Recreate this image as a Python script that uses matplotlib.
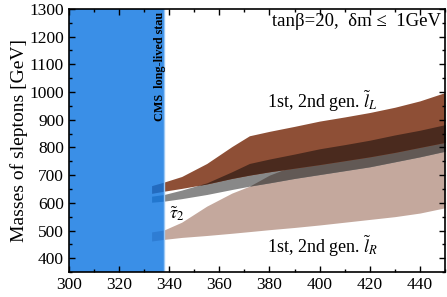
import numpy as np
import matplotlib
matplotlib.use("Agg")
import matplotlib.pyplot as plt
from matplotlib.ticker import MultipleLocator

plt.rcParams['font.family'] = ['Liberation Serif', 'DejaVu Serif']
plt.rcParams['mathtext.fontset'] = 'stix'

# stau mass grid (GeV) and band edges
m_stau = np.array([333, 338, 345, 355, 365, 372, 380, 390, 400, 410, 420, 430, 440, 450])
# 1st, 2nd gen. left-handed sleptons
lL_hi = np.array([662, 675, 695, 742, 803, 842, 858, 876, 895, 910, 926, 945, 968, 998])
lL_lo = np.array([634, 642, 652, 668, 688, 700, 712, 725, 738, 752, 766, 782, 800, 818])
# stau_2
tau2_hi = np.array([624, 630, 646, 672, 712, 742, 758, 776, 795, 810, 826, 845, 862, 882])
tau2_lo = np.array([602, 606, 615, 630, 648, 660, 672, 688, 702, 716, 730, 748, 766, 786])
# 1st, 2nd gen. right-handed sleptons
lR_hi = np.array([495, 502, 530, 588, 635, 660, 700, 735, 760, 775, 790, 805, 820, 840])
lR_lo = np.array([462, 468, 475, 482, 490, 496, 503, 511, 520, 530, 540, 550, 563, 582])

cms_limit = 338

c_brown = '#8e4f36'
c_dark = '#4a2a1e'
c_grey = '#888888'
c_taupe = '#625955'
c_pink = '#c4a89d'

fig = plt.figure(figsize=(4.47, 2.97), dpi=100)
ax = fig.add_axes([0.154, 0.084, 0.8415, 0.886])

ax.fill_between(m_stau, lR_lo, lR_hi, color=c_pink, lw=0)
ax.fill_between(m_stau, tau2_lo, tau2_hi, color=c_grey, lw=0)
lo = np.maximum(tau2_lo, lR_lo); hi = np.minimum(tau2_hi, lR_hi)
ax.fill_between(m_stau, lo, hi, where=hi > lo, interpolate=True, color=c_taupe, lw=0)
ax.fill_between(m_stau, lL_lo, lL_hi, color=c_brown, lw=0)
lo = np.maximum(tau2_lo, lL_lo); hi = np.minimum(tau2_hi, lL_hi)
ax.fill_between(m_stau, lo, hi, where=hi > lo, interpolate=True, color=c_dark, lw=0)

# CMS excluded region
ax.axvspan(300, cms_limit, color='#0973e2', alpha=0.8, lw=0)
ax.axvline(cms_limit, color='#9cc8f5', lw=1)
ax.text(336.3, 1288, 'CMS  long-lived stau', rotation=90, ha='center', va='top',
        fontsize=8.7, fontweight='bold')

ax.text(448.5, 1255, 'tanβ=20,  δm ≤  1GeV', ha='right', va='center', fontsize=13.5)
ax.text(401, 965, r'1st, 2nd gen. $\tilde{l}_L$', ha='center', va='center', fontsize=13)
ax.text(401, 443, r'1st, 2nd gen. $\tilde{l}_R$', ha='center', va='center', fontsize=13)
ax.text(343, 560, r'$\tilde{\tau}_2$', ha='center', va='center', fontsize=13)

ax.set_xlim(300, 450)
ax.set_ylim(350, 1300)
ax.set_xticks(np.arange(300, 441, 20))
ax.set_yticks(np.arange(400, 1301, 100))
ax.xaxis.set_minor_locator(MultipleLocator(10))
ax.yaxis.set_minor_locator(MultipleLocator(50))
ax.tick_params(which='both', direction='in', top=True, right=True, labelsize=12.5, width=1)
ax.tick_params(which='major', length=4)
ax.tick_params(which='minor', length=2)
for s in ax.spines.values():
    s.set_linewidth(1.2)
ax.set_ylabel('Masses of sleptons [GeV]', fontsize=14, labelpad=1)

fig.savefig('out.png', dpi=100)
